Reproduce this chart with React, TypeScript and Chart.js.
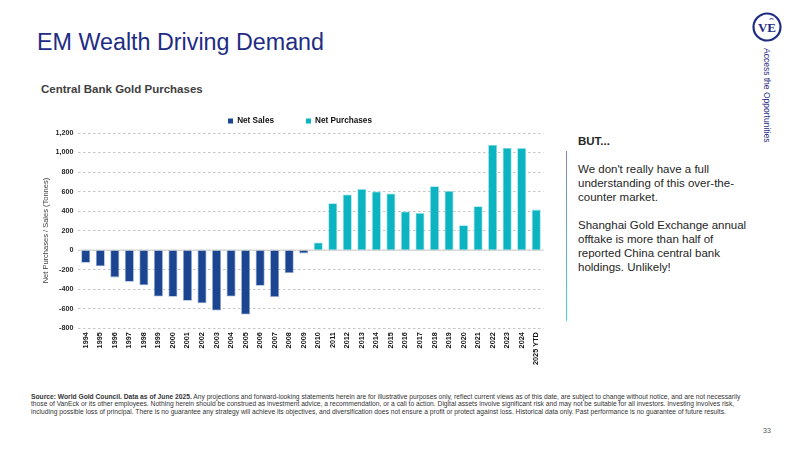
import { useEffect, useRef } from "react";
import { Chart, registerables } from "chart.js";

Chart.register(...registerables);

// Central bank gold flows, tonnes per year
const years = [
  "1994", "1995", "1996", "1997", "1998", "1999", "2000", "2001",
  "2002", "2003", "2004", "2005", "2006", "2007", "2008", "2009",
  "2010", "2011", "2012", "2013", "2014", "2015", "2016", "2017",
  "2018", "2019", "2020", "2021", "2022", "2023", "2024", "2025 YTD",
];

const netSales: (number | null)[] = [
  -130, -165, -280, -325, -360, -475, -478, -520,
  -545, -620, -475, -660, -365, -480, -235, -34,
  null, null, null, null, null, null, null, null,
  null, null, null, null, null, null, null, null,
];

const netPurchases: (number | null)[] = [
  null, null, null, null, null, null, null, null,
  null, null, null, null, null, null, null, null,
  79, 480, 570, 625, 600, 580, 395, 380,
  655, 605, 255, 450, 1080, 1050, 1045, 415,
];

const yMin = -800;
const yMax = 1200;
const yStep = 200;

const FONT = "'Liberation Sans', Arial, Helvetica, sans-serif";
const NAVY = "#1f2c84";
const SALES = "#1b4590";
const PURCHASES = "#0cb3c1";

const LEGEND_SHIFT = 9.5;

// solid baseline across the plot at zero
const zeroLine = {
  id: "zeroLine",
  beforeDatasetsDraw(chart: any) {
    const { ctx, chartArea, scales } = chart;
    const py = scales.y.getPixelForValue(0);
    ctx.save();
    ctx.strokeStyle = "#d4d4d4";
    ctx.lineWidth = 1.3;
    ctx.beginPath();
    ctx.moveTo(chartArea.left, py);
    ctx.lineTo(chartArea.right, py);
    ctx.stroke();
    ctx.restore();
  },
};

// nudge the legend row sideways
const legendOffset = {
  id: "legendOffset",
  afterLayout(chart: any) {
    if (chart.legend) {
      chart.legend.left += LEGEND_SHIFT;
      chart.legend.right += LEGEND_SHIFT;
    }
  },
};

function GoldChart() {
  const ref = useRef<HTMLCanvasElement | null>(null);

  useEffect(() => {
    if (!ref.current) return;
    Chart.defaults.font.family = FONT;
    const chart = new Chart(ref.current, {
      type: "bar",
      data: {
        labels: years,
        datasets: [
          {
            label: "Net Sales",
            data: netSales,
            backgroundColor: SALES,
            borderColor: "#8ea6d2",
            borderWidth: 0.8,
            categoryPercentage: 1,
            barPercentage: 0.62,
          },
          {
            label: "Net Purchases",
            data: netPurchases,
            backgroundColor: PURCHASES,
            borderColor: "#8fe0e8",
            borderWidth: 0.8,
            categoryPercentage: 1,
            barPercentage: 0.62,
          },
        ],
      },
      options: {
        responsive: false,
        animation: false,
        devicePixelRatio: 1,
        layout: { padding: { left: 0, right: 1, top: 0, bottom: 0 } },
        plugins: {
          tooltip: { enabled: false },
          legend: {
            position: "top",
            fullSize: true,
            maxHeight: 48,
            labels: {
              boxWidth: 5,
              boxHeight: 5,
              padding: 32,
              color: "#111",
              font: { size: 8.2, weight: "bold", family: FONT },
              generateLabels: (c: any) =>
                Chart.defaults.plugins.legend.labels
                  .generateLabels(c)
                  .map((l: any) => ({ ...l, lineWidth: 0 })),
            },
          },
        },
        scales: {
          x: {
            stacked: true,
            grid: { display: false, drawTicks: false },
            border: { display: false },
            ticks: {
              autoSkip: false,
              maxRotation: 90,
              minRotation: 90,
              padding: 4,
              color: "#111",
              font: { size: 7.3, weight: "bold", family: FONT },
            },
          },
          y: {
            stacked: true,
            min: yMin,
            max: yMax,
            grid: { color: "#b8b8b8", lineWidth: 0.8, drawTicks: false },
            border: { display: false, dash: [2.5, 2.5] },
            ticks: {
              stepSize: yStep,
              padding: 5,
              color: "#262626",
              font: { size: 7.2, weight: "bold", family: FONT },
              callback: (v: any) => Number(v).toLocaleString("en-US"),
            },
            title: {
              display: true,
              text: "Net Purchases / Sales (Tonnes)",
              color: "#404040",
              font: { size: 7.5, family: FONT },
              padding: { top: 8.5, bottom: 0 },
            },
          },
        },
      },
      plugins: [zeroLine, legendOffset],
    } as any);
    return () => chart.destroy();
  }, []);

  return (
    <canvas
      ref={ref}
      width={516}
      height={284}
      style={{ position: "absolute", left: 33, top: 85, width: 516, height: 284 }}
    />
  );
}

export default function App() {
  return (
    <div
      style={{
        position: "fixed",
        left: 0,
        top: 0,
        width: 800,
        height: 450,
        background: "#fff",
        overflow: "hidden",
        fontFamily: FONT,
      }}
    >
      <div
        style={{
          position: "absolute",
          left: 37,
          top: 31,
          fontSize: 23.3,
          lineHeight: "23px",
          color: NAVY,
          whiteSpace: "nowrap",
        }}
      >
        EM Wealth Driving Demand
      </div>
      <div
        style={{
          position: "absolute",
          left: 41,
          top: 83,
          fontSize: 11.5,
          lineHeight: "13px",
          fontWeight: "bold",
          color: "#404040",
          whiteSpace: "nowrap",
        }}
      >
        Central Bank Gold Purchases
      </div>

      <GoldChart />

      <div
        style={{
          position: "absolute",
          left: 565.5,
          top: 151,
          width: 1.5,
          height: 170,
          background: "linear-gradient(#8183c2, #3fd6e8)",
        }}
      />
      <div
        style={{
          position: "absolute",
          left: 578,
          top: 134,
          fontSize: 11.5,
          lineHeight: "14px",
          fontWeight: "bold",
          color: "#262626",
        }}
      >
        BUT...
      </div>
      <div
        style={{
          position: "absolute",
          left: 578,
          top: 162,
          fontSize: 11.5,
          lineHeight: "14px",
          color: "#262626",
          whiteSpace: "nowrap",
        }}
      >
        We don't really have a full
        <br />
        understanding of this over-the-
        <br />
        counter market.
        <br />
        <br />
        Shanghai Gold Exchange annual
        <br />
        offtake is more than half of
        <br />
        reported China central bank
        <br />
        holdings. Unlikely!
      </div>

      <svg
        width={34}
        height={34}
        style={{ position: "absolute", left: 750, top: 10 }}
      >
        <circle cx={17} cy={17} r={13.5} fill="none" stroke={NAVY} strokeWidth={2.2} />
        <text
          x={17}
          y={21.5}
          textAnchor="middle"
          fontFamily="'Liberation Serif', 'DejaVu Serif', serif"
          fontWeight="bold"
          fontSize={13}
          fill={NAVY}
        >
          VE
        </text>
        <path d="M19.5 9.2 Q21.5 7.8 23.5 9.2" stroke={NAVY} strokeWidth={1} fill="none" />
      </svg>
      <div
        style={{
          position: "absolute",
          left: 762,
          top: 48,
          writingMode: "vertical-rl",
          fontSize: 8.5,
          lineHeight: "10px",
          color: NAVY,
          whiteSpace: "nowrap",
        }}
      >
        Access the Opportunities
      </div>

      <div
        style={{
          position: "absolute",
          left: 31,
          top: 393,
          fontSize: 6.7,
          lineHeight: "7.4px",
          color: "#333",
          whiteSpace: "nowrap",
        }}
      >
        <b>Source: World Gold Council. Data as of June 2025.</b> Any projections and forward-looking statements herein are for illustrative purposes only, reflect current views as of this date, are subject to change without notice, and are not necessarily
        <br />
        those of VanEck or its other employees. Nothing herein should be construed as investment advice, a recommendation, or a call to action. Digital assets involve significant risk and may not be suitable for all investors. Investing involves risk,
        <br />
        including possible loss of principal. There is no guarantee any strategy will achieve its objectives, and diversification does not ensure a profit or protect against loss. Historical data only. Past performance is no guarantee of future results.
      </div>
      <div
        style={{
          position: "absolute",
          left: 763,
          top: 427,
          fontSize: 7,
          lineHeight: "8px",
          color: "#555",
        }}
      >
        33
      </div>
    </div>
  );
}
